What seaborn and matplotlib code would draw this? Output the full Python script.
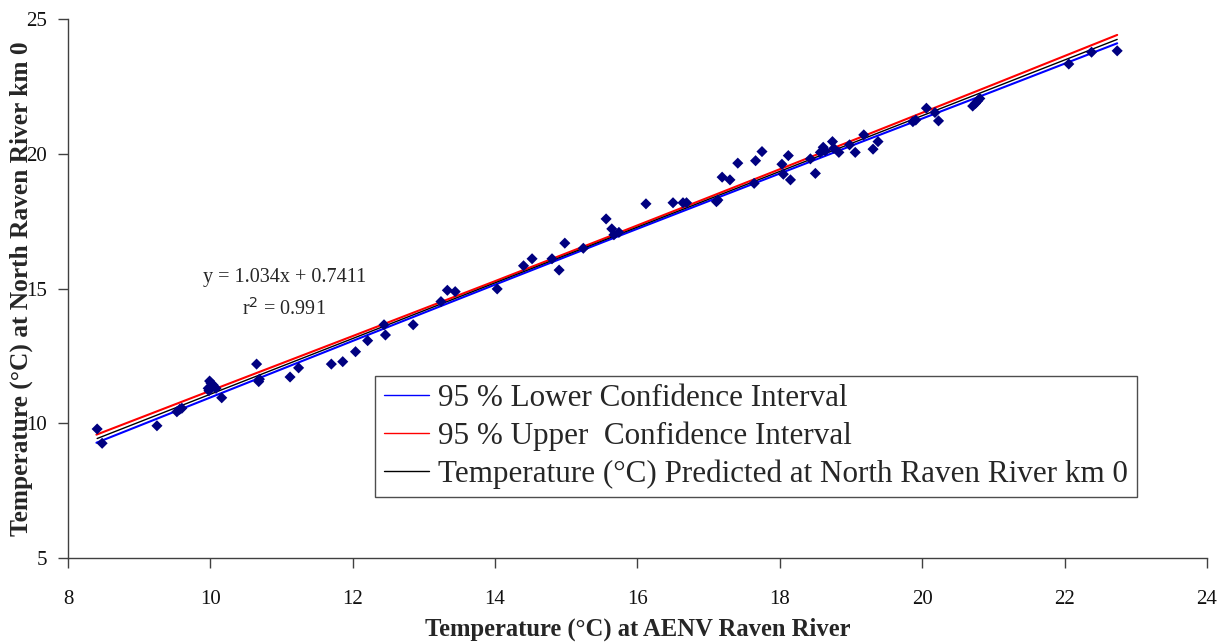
import numpy as np
import pandas as pd
import matplotlib
matplotlib.use("Agg")
import matplotlib.pyplot as plt
import seaborn as sns

# Paired daily water temperatures (°C)
aenv_temp = [
    8.41, 8.48, 9.25, 9.53, 9.57, 9.60, 9.99, 10.01, 9.97, 10.04, 10.08, 9.98,
    10.16, 10.65, 10.68, 10.69, 11.12, 11.24, 11.70, 11.86, 12.04, 12.21,
    12.44, 12.46, 12.85, 13.24, 13.33, 13.44, 14.03, 14.40, 14.52, 14.80,
    14.90, 14.98, 15.24, 15.56, 15.64, 15.67, 15.74, 16.12, 16.50, 16.64,
    16.69, 17.11, 17.13, 17.19, 17.30, 17.41, 17.64, 17.66, 17.75, 18.03,
    18.05, 18.12, 18.15, 18.43, 18.50, 18.57, 18.61, 18.64, 18.74, 18.76,
    18.83, 18.98, 19.06, 19.18, 19.31, 19.38, 19.87, 19.91, 20.06, 20.18,
    20.23, 20.71, 20.75, 20.78, 20.81, 22.06, 22.38, 22.74,
]
north_km0_temp = [
    9.79, 9.26, 9.91, 10.43, 10.52, 10.56, 11.57, 11.49, 11.30, 11.42, 11.30, 11.21,
    10.95, 12.20, 11.55, 11.64, 11.72, 12.06, 12.20, 12.29, 12.66, 13.07,
    13.66, 13.28, 13.66, 14.52, 14.94, 14.89, 14.99, 15.85, 16.11, 16.11,
    15.69, 16.69, 16.50, 17.59, 17.22, 17.00, 17.09, 18.15, 18.19, 18.19,
    18.19, 18.23, 18.29, 19.14, 19.04, 19.66, 18.91, 19.75, 20.09, 19.62,
    19.25, 19.94, 19.04, 19.82, 19.28, 20.06, 20.25, 20.12, 20.46, 20.21,
    20.06, 20.34, 20.06, 20.71, 20.18, 20.46, 21.20, 21.26, 21.70, 21.54,
    21.23, 21.78, 21.88, 21.97, 22.06, 23.34, 23.78, 23.83,
]

# Regression y = 1.034x + 0.7411 (r² = 0.991)
slope = 1.034
intercept = 0.7411

# 95 % confidence band around the fitted line
band_x = [8.40, 10.0, 12.0, 14.0, 15.5, 17.0, 19.0, 21.0, 22.74]
band_lower = [9.28, 10.96, 13.06, 15.15, 16.71, 18.25, 20.30, 22.33, 24.11]
band_upper = [9.58, 11.21, 13.24, 15.28, 16.83, 18.39, 20.48, 22.58, 24.42]

x_ticks = [8, 10, 12, 14, 16, 18, 20, 22, 24]
y_ticks = [5, 10, 15, 20, 25]

sns.set_theme(style="white")
serif = ["Liberation Serif", "DejaVu Serif"]
plt.rcParams["font.family"] = serif

fig = plt.figure(figsize=(12.29, 6.44), dpi=100)
ax = fig.add_axes([0.0553, 0.1335, 0.9267, 0.8365])

obs = pd.DataFrame({"x": aenv_temp, "y": north_km0_temp})
pred_x = np.sort(np.array(aenv_temp))
pred = pd.DataFrame({"x": pred_x, "y": slope * pred_x + intercept})
band = pd.DataFrame({"x": band_x, "lo": band_lower, "hi": band_upper})

sns.lineplot(data=band, x="x", y="lo", ax=ax, color="#0000ff", lw=1.5,
             estimator=None, label="95 % Lower Confidence Interval")
sns.lineplot(data=band, x="x", y="hi", ax=ax, color="#ff0000", lw=1.5,
             estimator=None, label="95 % Upper  Confidence Interval")
sns.lineplot(data=pred, x="x", y="y", ax=ax, color="black", lw=1.0,
             estimator=None,
             label="Temperature (°C) Predicted at North Raven River km 0")
sns.scatterplot(data=obs, x="x", y="y", ax=ax, marker="D", s=32,
                color="#000080", edgecolor="none", zorder=3, legend=False)

ax.set_xlim(8, 24)
ax.set_ylim(5, 25)
ax.set_xticks(x_ticks)
ax.set_yticks(y_ticks)
ax.tick_params(axis="both", which="major", direction="out", length=7,
               width=1, color="#404040", labelsize=15,
               left=True, bottom=True, labelcolor="#111111")
ax.tick_params(axis="x", pad=16)
ax.tick_params(axis="y", pad=8)
for side in ["top", "right"]:
    ax.spines[side].set_visible(False)
for side in ["left", "bottom"]:
    ax.spines[side].set_color("#404040")
    ax.spines[side].set_linewidth(1.0)

ax.set_xlabel("Temperature (°C) at AENV Raven River", fontsize=17.7,
              fontweight="bold")
ax.set_ylabel("Temperature (°C) at North Raven River km 0", fontsize=18.3,
              fontweight="bold")
ax.xaxis.set_label_coords(0.5, -0.111)
ax.yaxis.set_label_coords(-0.031, 0.5)

ax.text(11.04, 15.42, "y = 1.034x + 0.7411", fontsize=14.5, ha="center",
        va="center")
ax.text(11.04, 14.25, "r$^{2}$ = 0.991", fontsize=14.5, ha="center",
        va="center")

leg = ax.legend(loc="lower left", bbox_to_anchor=(0.270, 0.113),
                borderaxespad=0, fontsize=22.4, frameon=True, fancybox=False,
                handlelength=1.45, handletextpad=0.3, labelspacing=0.27,
                borderpad=0.27)
leg.get_frame().set_edgecolor("#202020")
leg.get_frame().set_linewidth(1.0)
for line in leg.get_lines():
    line.set_linewidth(1.0)

fig.savefig("out.png", dpi=100)
